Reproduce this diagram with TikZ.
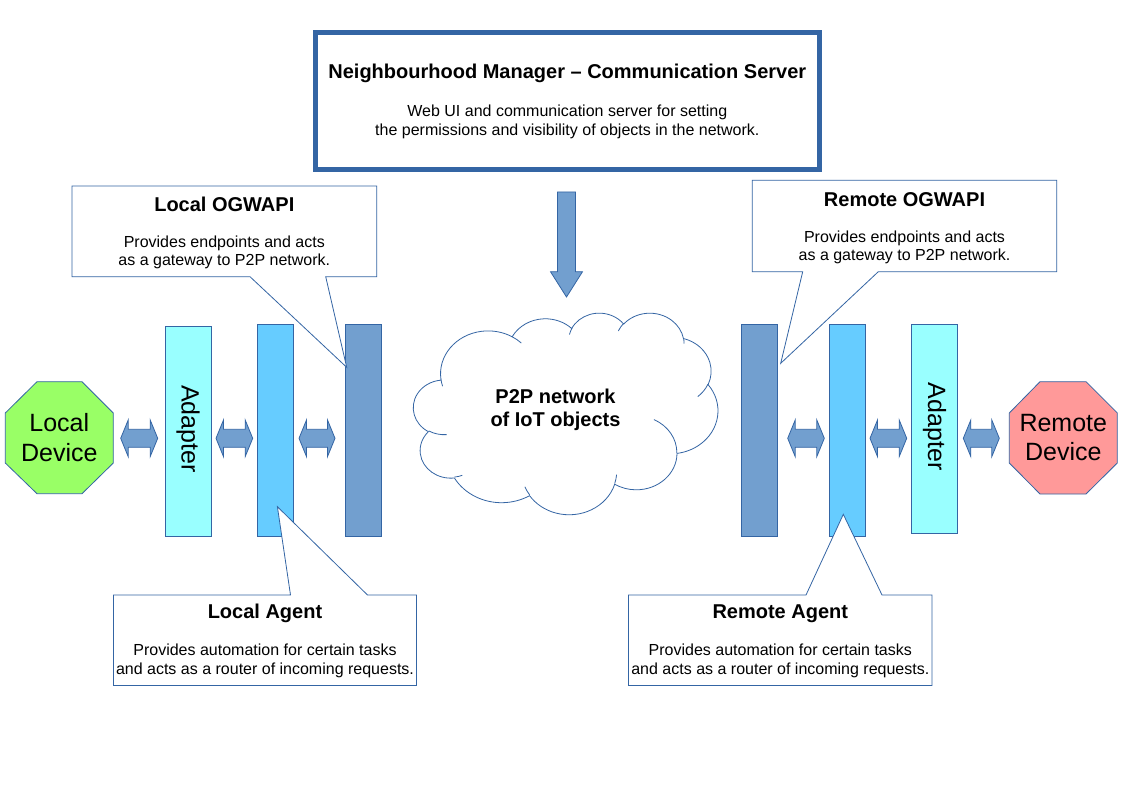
\documentclass[tikz,border=0pt]{standalone}
\usepackage{fontspec}
\setmainfont{Liberation Sans}
\definecolor{edge}{HTML}{3465A4}
\definecolor{ogw}{HTML}{729FCF}
\definecolor{agentc}{HTML}{66CCFF}
\definecolor{adapc}{HTML}{99FFFF}
\definecolor{localc}{HTML}{99FF66}
\definecolor{remotec}{HTML}{FF9999}
\newcommand\lrarrow[3]{%
  \draw[arr] (#1,#3) -- (#1+7.5,#3-18.3) -- (#1+7.5,#3-9) -- (#2-7.5,#3-9) -- (#2-7.5,#3-18.3) -- (#2,#3)
    -- (#2-7.5,#3+18.3) -- (#2-7.5,#3+9) -- (#1+7.5,#3+9) -- (#1+7.5,#3+18.3) -- cycle;}
\begin{document}
\begin{tikzpicture}[x=1pt,y=-1pt,
  declare function={pa(\a,\b,\c)=atan2(\a*sin(\c),\b*cos(\c));},
  carc/.style n args={4}{x radius=#1,y radius=#2,start angle={pa(#1,#2,#3)},delta angle={mod(pa(#1,#2,#3+#4)-pa(#1,#2,#3)+720,360)}},
  outline/.style={draw=edge, line width=0.8pt},
  bar/.style={outline, rectangle, inner sep=0pt},
  callout/.style={outline, fill=white, line join=miter},
  arr/.style={outline, fill=ogw},
  ttl/.style={font=\fontsize{20}{23}\selectfont\bfseries, align=center, inner sep=0pt},
  txt/.style={font=\fontsize{16}{18.4}\selectfont, align=center, inner sep=0pt},
  big/.style={font=\fontsize{25}{29.5}\selectfont, align=center, inner sep=0pt},
]
\path[use as bounding box, fill=white] (0,0) rectangle (1123,794);

% top server box
\draw[draw=edge, line width=4.5pt, fill=white] (315.3,32.3) rectangle (819.5,169.5);
\node[ttl] (nmtitle) at (567.3,73.5) {Neighbourhood Manager – Communication Server};
\node[txt] (nmtext) at (567.3,122) {Web UI and communication server for setting\\the permissions and visibility of objects in the network.};

% down arrow
\draw[arr] (557.5,192) -- (575.5,192) -- (575.5,271.7) -- (582.5,271.7) -- (566.5,297) -- (550.5,271.7) -- (557.5,271.7) -- cycle;

% cloud
\begin{scope}[shift={(413.5,312.5)}, xscale=0.7045, yscale=0.4665]
\draw[outline, fill=white] (39.00,143.70)
  arc[carc={67.53}{91.90}{-190.4875}{123.7805}]
  arc[carc={53.33}{72.67}{-144.1024}{89.9452}]
  arc[carc={43.65}{59.45}{-145.8079}{99.7230}]
  arc[carc={48.57}{65.95}{-130.9861}{117.2417}]
  arc[carc={53.33}{72.73}{-78.7089}{109.0269}]
  arc[carc={67.75}{92.20}{-46.2673}{130.2690}]
  arc[carc={57.85}{78.67}{0.6250}{114.0333}]
  arc[carc={67.52}{92.15}{22.4516}{115.1726}]
  arc[carc={77.20}{105.43}{66.2426}{75.7111}]
  arc[carc={43.60}{59.18}{-274.9421}{146.7356}]
  arc[carc={43.45}{59.45}{-246.8285}{152.5189}]
  -- cycle;
\draw[outline] (46.93,261.77) arc[carc={43.45}{59.45}{86.7420}{26.4295}]
  (69.28,348.99) arc[carc={43.60}{59.18}{73.6105}{11.4475}]
  (164.78,390.90) arc[carc={67.52}{92.15}{137.6242}{14.0811}]
  (288.27,347.51) arc[carc={67.52}{92.15}{6.4533}{15.9984}]
  (341.29,229.54) arc[carc={57.85}{78.67}{-70.2924}{70.9174}]
  (417.98,153.54) arc[carc={53.33}{72.73}{30.3180}{27.7515}]
  (383.24,54.26) arc[carc={48.57}{65.95}{-13.7443}{14.8538}]
  (290.78,39.52) arc[carc={48.57}{65.95}{-149.1815}{18.1959}]
  (221.41,47.20) arc[carc={43.65}{59.45}{-163.4943}{17.6847}]
  (140.00,51.92) arc[carc={67.53}{91.90}{-66.7070}{12.3194}]
  (41.27,157.89) arc[carc={67.53}{91.90}{157.6544}{11.8582}];
\end{scope}
\node[ttl] (p2p) at (555.5,410) {P2P network\\of IoT objects};

% local side bars
\node[bar, fill=adapc, minimum width=46, minimum height=209.3] (ladapter) at (188.7,431.35) {};
\node[big, rotate=-90] (ladaptertext) at (188,429) {Adapter};
\node[bar, fill=agentc, minimum width=36, minimum height=211.7] (lagent) at (275.3,430.15) {};
\node[bar, fill=ogw, minimum width=36.4, minimum height=211.7] (logwapi) at (363.5,430.15) {};

% remote side bars
\node[bar, fill=ogw, minimum width=36.7, minimum height=212.4] (rogwapi) at (759.35,430.5) {};
\node[bar, fill=agentc, minimum width=36.4, minimum height=211.7] (ragent) at (847.5,430.15) {};
\node[bar, fill=adapc, minimum width=46.4, minimum height=209] (radapter) at (934.5,428.8) {};
\node[big, rotate=-90] (radaptertext) at (934.5,426.7) {Adapter};

% devices
\draw[outline, fill=localc] (37,381.7) -- (82,381.7) -- (113.3,413) -- (113.3,463) -- (82,493.7) -- (37,493.7) -- (5.3,463) -- (5.3,413) -- cycle;
\node[big] (ldev) at (59.3,437.5) {Local\\Device};
\draw[outline, fill=remotec] (1040,381.7) -- (1086,381.7) -- (1117.3,413) -- (1117.3,463) -- (1086,494) -- (1040,494) -- (1009.3,463) -- (1009.3,413) -- cycle;
\node[big] (rdev) at (1063.3,437.5) {Remote\\Device};

% double arrows
\lrarrow{120.7}{157.7}{438.3}
\lrarrow{216}{252.7}{438.3}
\lrarrow{299}{335}{438.3}
\lrarrow{787.7}{824.3}{438.3}
\lrarrow{870}{906.7}{438.3}
\lrarrow{963.3}{999.3}{438.3}

% callouts
\draw[callout] (72,186) -- (376.7,186) -- (376.7,276.7) -- (325.7,276.7) -- (346.7,367.3) -- (250,276.7) -- (72,276.7) -- cycle;
\node[ttl] (logwtitle) at (224.3,204) {Local OGWAPI};
\node[txt] (logwtext) at (224.3,252.5) {Provides endpoints and acts\\as a gateway to P2P network.};

\draw[callout] (752.3,180.3) -- (1056.7,180.3) -- (1056.7,271.7) -- (878.3,271.7) -- (780.7,363.3) -- (802.7,271.7) -- (752.3,271.7) -- cycle;
\node[ttl] (rogwtitle) at (904.5,199.3) {Remote OGWAPI};
\node[txt] (rogwtext) at (904.5,247.5) {Provides endpoints and acts\\as a gateway to P2P network.};

\draw[callout] (113.5,595) -- (290.5,595) -- (277.4,506.7) -- (367.5,595) -- (416.5,595) -- (416.5,685.5) -- (113.5,685.5) -- cycle;
\node[ttl] (lagtitle) at (265,613.5) {Local Agent};
\node[txt] (lagtext) at (265,661) {Provides automation for certain tasks\\and acts as a router of incoming requests.};

\draw[callout] (628.5,595) -- (806,595) -- (843.3,514.3) -- (882,595) -- (932,595) -- (932,685.5) -- (628.5,685.5) -- cycle;
\node[ttl] (ragtitle) at (780.3,613.5) {Remote Agent};
\node[txt] (ragtext) at (780.3,661) {Provides automation for certain tasks\\and acts as a router of incoming requests.};
\end{tikzpicture}
\end{document}
